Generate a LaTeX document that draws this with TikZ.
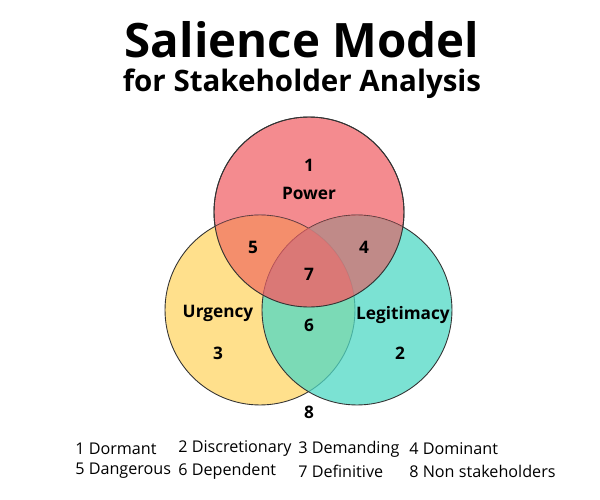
\documentclass[tikz,border=0pt]{standalone}
\usepackage{fontspec}
\setmainfont{Open Sans}
\usetikzlibrary{positioning}
\definecolor{powerred}{HTML}{F0646A}
\definecolor{urgyellow}{HTML}{FFD566}
\definecolor{legteal}{HTML}{4FD8C4}
\tikzset{
	zona/.style={circle, draw=black!80, line width=0.5pt, minimum size=3.8cm, fill opacity=0.75},
	etiqueta/.style={font=\bfseries\fontsize{9.8}{12}\selectfont},
	leyenda/.style={font=\fontsize{9.2}{11}\selectfont, anchor=west, inner sep=0pt}
}
\begin{document}
\begin{tikzpicture}[x=0.02cm, y=-0.02cm]
			\useasboundingbox (0,0) rectangle (600,500);
			\node[font=\bfseries\fontsize{27}{32}\selectfont] (titulo) at (302,40) {Salience Model};
			\node[font=\bfseries\fontsize{16.8}{20}\selectfont] (subtitulo) at (302,84) {for Stakeholder Analysis};
			
			\node[zona, fill=powerred] (power) at (309,212) {};
			\node[zona, fill=urgyellow] (urgency) at (260,310) {};
			\node[zona, fill=legteal] (legitimacy) at (357,310) {};
			\begin{scope}
				\clip (309,212) circle (95);
				\fill[powerred, fill opacity=0.55] (260,310) circle (95);
				\fill[powerred, fill opacity=0.6] (357,310) circle (95);
			\end{scope}
			\draw[black!80, line width=0.5pt] (309,212) circle (95);
			
			\node[etiqueta] (n1) at (309,165) {1};
			\node[etiqueta] (lp) at (309,193) {Power};
			\node[etiqueta] (n5) at (253,247) {5};
			\node[etiqueta] (n4) at (364,247) {4};
			\node[etiqueta] (n7) at (309,274) {7};
			\node[etiqueta] (lu) at (218,313) {Urgency};
			\node[etiqueta] (ll) at (403,315) {Legitimacy};
			\node[etiqueta] (n6) at (309,325) {6};
			\node[etiqueta] (n3) at (218,353) {3};
			\node[etiqueta] (n2) at (400,353) {2};
			\node[etiqueta] (n8) at (309,412) {8};
			
			\node[leyenda] (d1) at (75,449) {1 Dormant};
			\node[leyenda] (d2) at (178,449) {2 Discretionary};
			\node[leyenda] (d3) at (298,449) {3 Demanding};
			\node[leyenda] (d4) at (409,449) {4 Dominant};
			\node[leyenda] (d5) at (75,471) {5 Dangerous};
			\node[leyenda] (d6) at (178,471) {6 Dependent};
			\node[leyenda] (d7) at (298,471) {7 Definitive};
			\node[leyenda] (d8) at (409,471) {8 Non stakeholders};
		\end{tikzpicture}
\end{document}
